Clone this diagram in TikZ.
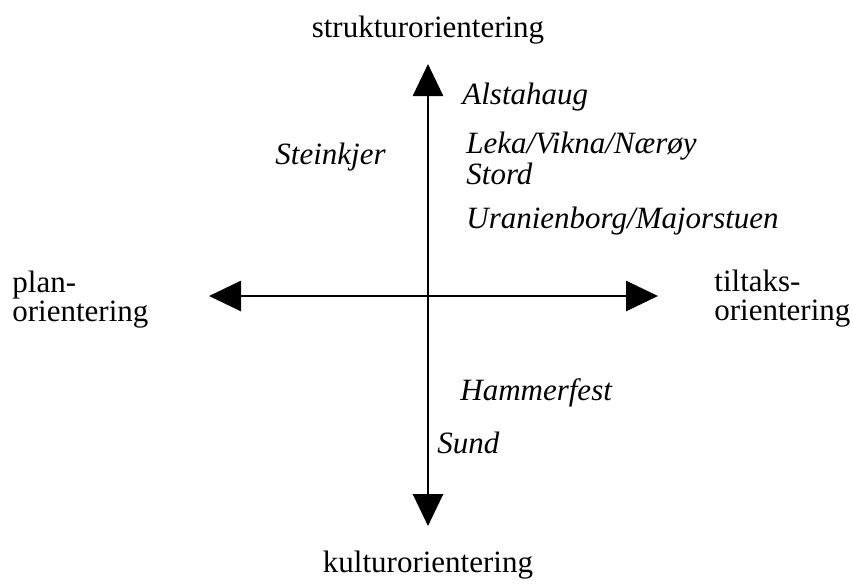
\documentclass[tikz,border=0pt]{standalone}
\usepackage{fontspec}
\setmainfont{Liberation Serif}
\usetikzlibrary{arrows.meta}

\begin{document}
\begin{tikzpicture}[
        x=0.5pt, y=-0.5pt,
        axis/.style={
            line width=1.4pt,
            -{Triangle[width=15pt, length=16pt]}
        },
        every node/.style={
            inner sep=0pt,
            font=\fontsize{15.5}{18}\selectfont
        },
        place/.style={anchor=west, font=\fontsize{15.5}{18}\selectfont\itshape},
        pole/.style={align=left, anchor=west, font=\fontsize{15.5}{14.5}\selectfont}
    ]
    \useasboundingbox (0,0) rectangle (853,585);

    % axes
    \coordinate (o) at (428,296);
    \coordinate (n) at (428,64);
    \coordinate (s) at (428,526);
    \coordinate (w) at (209,296);
    \coordinate (e) at (658,296);
    \draw[axis] (o) -- (n);
    \draw[axis] (o) -- (s);
    \draw[axis] (o) -- (w);
    \draw[axis] (o) -- (e);

    % poles
    \node (struktur) at (428,30) {strukturorientering};
    \node (kultur) at (428,565) {kulturorientering};
    \node[pole] (plan) at (12,300) {plan-\\orientering};
    \node[pole] (tiltak) at (714,299) {tiltaks-\\orientering};

    % kommuner
    \node[place] (alstahaug) at (462,97) {Alstahaug};
    \node[place] (leka) at (466,146) {Leka/Vikna/Nærøy};
    \node[place] (stord) at (466,174) {Stord};
    \node[place] (uranienborg) at (466,221) {Uranienborg/Majorstuen};
    \node[place] (steinkjer) at (275,157) {Steinkjer};
    \node[place] (hammerfest) at (460,393) {Hammerfest};
    \node[place] (sund) at (437,443) {Sund};
\end{tikzpicture}
\end{document}
